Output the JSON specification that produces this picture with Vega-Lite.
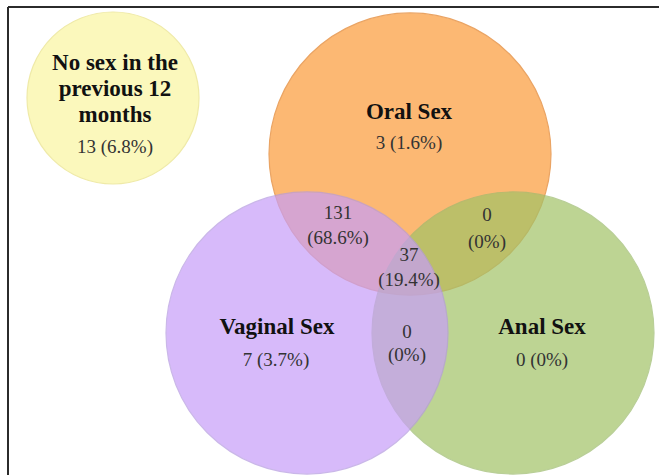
{
  "$schema": "https://vega.github.io/schema/vega-lite/v6.json",
  "width": 659,
  "height": 475,
  "padding": 0,
  "autosize": {"type": "none"},
  "background": "white",
  "config": {"view": {"stroke": null}},
  "datasets": {
    "circles": [
      {"set": "No sex", "cx": 113, "cy": 98, "r": 86},
      {"set": "Oral Sex", "cx": 410, "cy": 154, "r": 141},
      {"set": "Anal Sex", "cx": 513, "cy": 333, "r": 141},
      {"set": "Vaginal Sex", "cx": 307, "cy": 333, "r": 141}
    ],
    "titles": [
      {"label": "No sex in the", "x": 115, "y": 63},
      {"label": "previous 12", "x": 115, "y": 89},
      {"label": "months", "x": 115, "y": 115},
      {"label": "Oral Sex", "x": 409, "y": 112},
      {"label": "Vaginal Sex", "x": 277, "y": 327},
      {"label": "Anal Sex", "x": 542, "y": 327}
    ],
    "counts": [
      {"label": "13 (6.8%)", "x": 115, "y": 147},
      {"label": "3 (1.6%)", "x": 409, "y": 143},
      {"label": "7 (3.7%)", "x": 276, "y": 360},
      {"label": "0 (0%)", "x": 542, "y": 360},
      {"label": "131", "x": 338, "y": 213},
      {"label": "(68.6%)", "x": 338, "y": 238},
      {"label": "0", "x": 487, "y": 215},
      {"label": "(0%)", "x": 487, "y": 242},
      {"label": "37", "x": 409, "y": 255},
      {"label": "(19.4%)", "x": 409, "y": 280},
      {"label": "0", "x": 407, "y": 332},
      {"label": "(0%)", "x": 407, "y": 355}
    ],
    "frame": [
      {"x": 8, "y": 7, "x2": 659, "y2": 7},
      {"x": 8, "y": 7, "x2": 8, "y2": 475}
    ]
  },
  "resolve": {"scale": {"fill": "shared", "stroke": "shared"}},
  "layer": [
    {
      "data": {"name": "circles"},
      "transform": [{"filter": "datum.set === 'No sex' || datum.set === 'Oral Sex'"}],
      "mark": {"type": "point", "shape": "circle", "filled": true, "strokeWidth": 1.2, "opacity": 1},
      "encoding": {
        "x": {"field": "cx", "type": "quantitative", "scale": {"domain": [0, 659], "nice": false, "zero": false}, "axis": null},
        "y": {"field": "cy", "type": "quantitative", "scale": {"domain": [0, 475], "nice": false, "zero": false, "reverse": true}, "axis": null},
        "size": {"field": "r", "type": "quantitative", "scale": {"type": "pow", "exponent": 2, "domain": [0, 141], "range": [0, 79524]}, "legend": null},
        "fill": {"field": "set", "type": "nominal", "scale": {"domain": ["No sex", "Oral Sex", "Anal Sex", "Vaginal Sex"], "range": ["#fbf8bc", "#fcb873", "#a2c266", "#c79ef8"]}, "legend": null},
        "stroke": {"field": "set", "type": "nominal", "scale": {"domain": ["No sex", "Oral Sex", "Anal Sex", "Vaginal Sex"], "range": ["#efeaa8", "#eaa464", "#9cbb6c", "#b59ae0"]}, "legend": null}
      }
    },
    {
      "data": {"name": "circles"},
      "transform": [{"filter": "datum.set === 'Anal Sex' || datum.set === 'Vaginal Sex'"}],
      "mark": {"type": "point", "shape": "circle", "filled": true, "strokeWidth": 1.2, "opacity": 0.7},
      "encoding": {
        "x": {"field": "cx", "type": "quantitative", "axis": null},
        "y": {"field": "cy", "type": "quantitative", "axis": null},
        "size": {"field": "r", "type": "quantitative", "legend": null},
        "fill": {"field": "set", "type": "nominal", "legend": null},
        "stroke": {"field": "set", "type": "nominal", "legend": null}
      }
    },
    {
      "data": {"name": "frame"},
      "mark": {"type": "rule", "color": "#2b2b2b", "strokeWidth": 2},
      "encoding": {
        "x": {"field": "x", "type": "quantitative"},
        "y": {"field": "y", "type": "quantitative"},
        "x2": {"field": "x2"},
        "y2": {"field": "y2"}
      }
    },
    {
      "data": {"name": "titles"},
      "mark": {"type": "text", "font": "Liberation Serif", "fontWeight": "bold", "fontSize": 23, "color": "#111111", "align": "center", "baseline": "middle"},
      "encoding": {
        "x": {"field": "x", "type": "quantitative"},
        "y": {"field": "y", "type": "quantitative"},
        "text": {"field": "label"}
      }
    },
    {
      "data": {"name": "counts"},
      "mark": {"type": "text", "font": "Liberation Serif", "fontSize": 19, "color": "#333333", "align": "center", "baseline": "middle"},
      "encoding": {
        "x": {"field": "x", "type": "quantitative"},
        "y": {"field": "y", "type": "quantitative"},
        "text": {"field": "label"}
      }
    }
  ]
}
